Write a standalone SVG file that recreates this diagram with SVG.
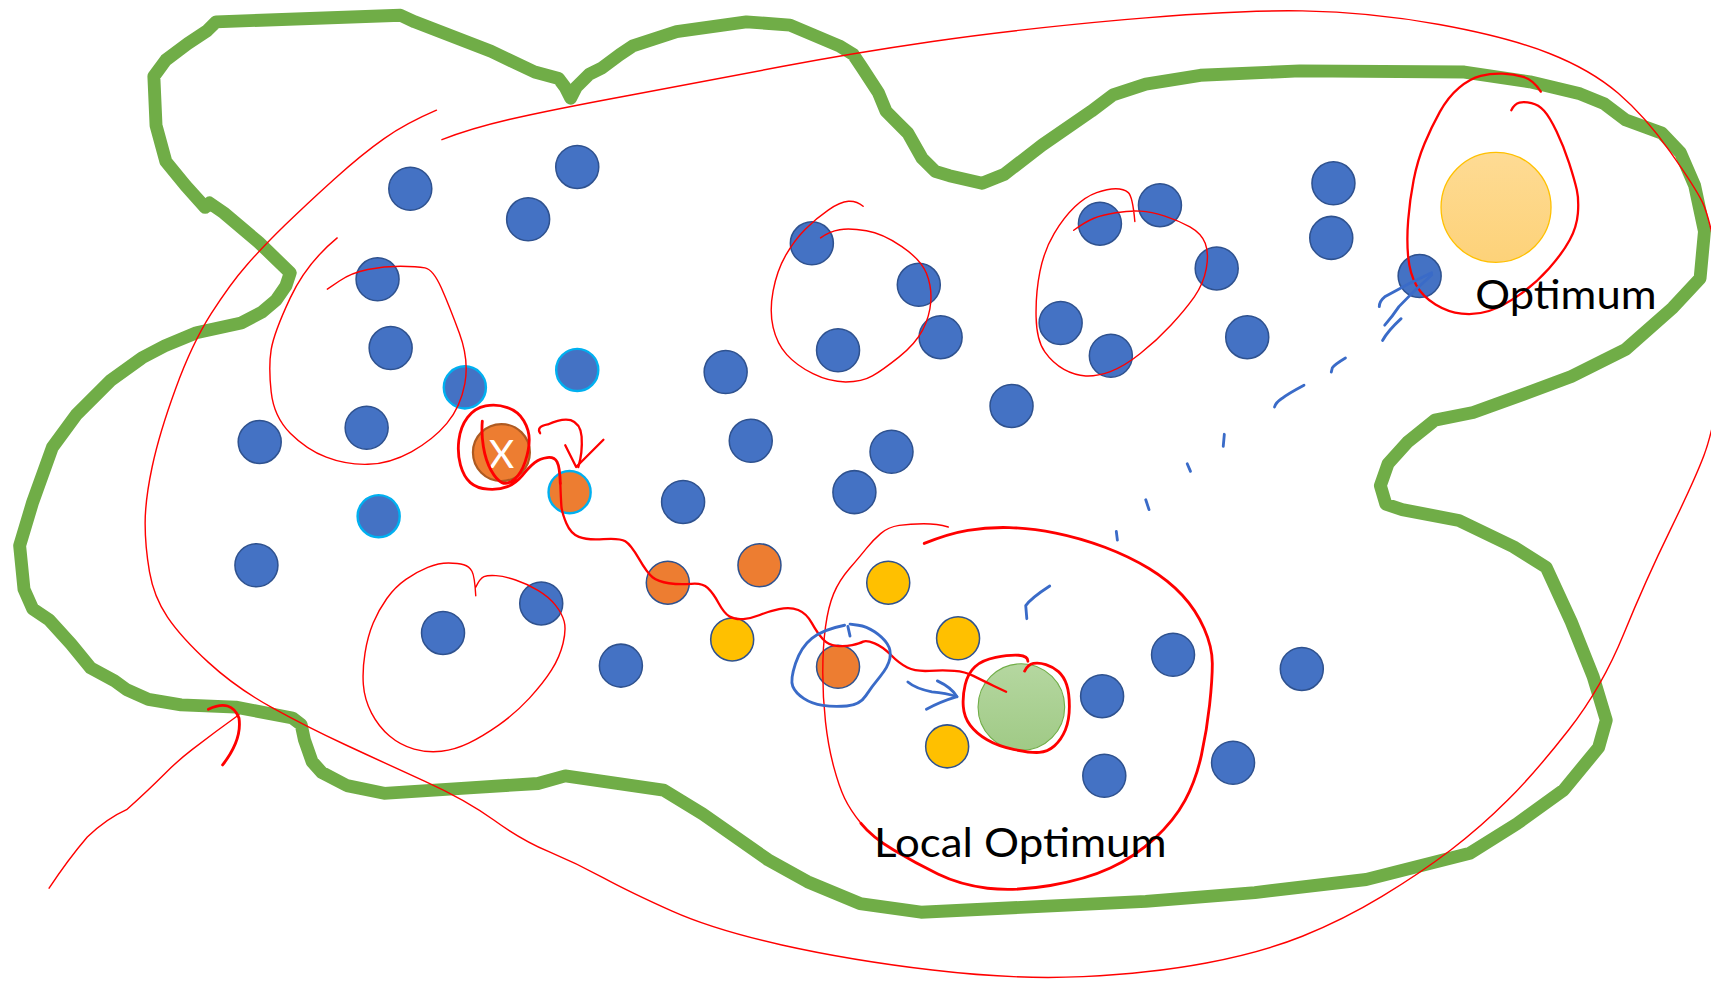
<svg xmlns="http://www.w3.org/2000/svg" width="1711" height="983" viewBox="0 0 1711 983">
  <defs>
    <style>
      .boundary { fill: none; stroke: #70AD47; stroke-width: 11.8; stroke-linejoin: round; stroke-linecap: round; }
      .pen-thin { fill: none; stroke: #FF0000; stroke-width: 1.3; stroke-linecap: round; stroke-linejoin: round; }
      .pen-mid { fill: none; stroke: #FF0000; stroke-width: 2.1; stroke-linecap: round; stroke-linejoin: round; }
      .pen-thick { fill: none; stroke: #FF0000; stroke-width: 2.6; stroke-linecap: round; stroke-linejoin: round; }
      .pen-blue { fill: none; stroke: #3A6BC8; stroke-width: 2.6; stroke-linecap: round; stroke-linejoin: round; }
      .dot { stroke-width: 1.4; }
      .blue { fill: #4472C4; stroke: #2F528F; }
      .cyan { fill: #4472C4; stroke: #00B0F0; stroke-width: 2.2; }
      .orange { fill: #ED7D31; stroke: #2F528F; }
      .orange-cyan { fill: #ED7D31; stroke: #00B0F0; stroke-width: 2.2; }
      .yellow { fill: #FFC000; stroke: #2F528F; }
      .label { font-family: Lato, "Open Sans", "Liberation Sans", sans-serif; font-size: 38px; fill: #000000; }
    </style>
    <linearGradient id="goldFill" x1="0" y1="0" x2="0" y2="1">
      <stop offset="0" stop-color="#FEDB94"/>
      <stop offset="1" stop-color="#FDD279"/>
    </linearGradient>
    <linearGradient id="greenFill" x1="0" y1="0" x2="0" y2="1">
      <stop offset="0" stop-color="#B5D7A0"/>
      <stop offset="1" stop-color="#A0CA86"/>
    </linearGradient>
  </defs>
  <rect width="1711" height="983" fill="#FFFFFF"/>

  <g transform="scale(1.0912)">
    <!-- search space boundary -->
    <g id="boundary">
      <path class="boundary" d="M198,20 L367,14 L380,20 L450,47 L490,66 L512,72 L518,80 L523,90 L528,80 L540,68 L552,62 L568,50 L580,42 L620,29 L684,20 L724,23 L769,42 L782,50 L790,62 L805,85 L812,102 L822,112 L832,122 L845,145 L857,157 L870,161 L900,168 L920,160 L955,133 L1000,102 L1020,87 L1050,77 L1100,69 L1191,65 L1342,66 L1402,75 L1448,86 L1470,95 L1490,110 L1523,122 L1540,140 L1553,170 L1562,212 L1558,255 L1533,282 L1490,320 L1440,345 L1400,360 L1350,378 L1315,385 L1290,405 L1272,425 L1265,445 L1270,462 L1285,467 L1337,477 L1387,501 L1417,520 L1440,570 L1460,620 L1472,660 L1465,685 L1433,724 L1390,755 L1347,782 L1252,806 L1150,818 L1050,826 L844,836 L788,828 L740,808 L704,788 L644,746 L608,724 L518,711 L493,718 L430,722 L352,727 L318,720 L295,708 L286,698 L279,678 L276,664 L268,658 L216,648 L166,646 L136,641 L116,632 L105,624 L83,612 L65,590 L45,568 L30,558 L22,540 L18,500 L30,460 L48,410 L70,380 L101,349 L130,328 L151,317 L180,305 L221,296 L240,286 L253,275 L262,262 L266,250 L237,222 L205,195 L192,186 L188,190 L170,170 L152,148 L143,115 L141,70 L152,55 L172,40 L190,28 Z"/>
    </g>

    <!-- sample points -->
    <g id="points">
      <g id="blue-points" class="dot blue">
        <circle cx="376" cy="173" r="19.7"/>
        <circle cx="529" cy="153" r="19.7"/>
        <circle cx="484" cy="201" r="19.7"/>
        <circle cx="346" cy="256" r="19.7"/>
        <circle cx="358" cy="319" r="19.7"/>
        <circle cx="336" cy="392" r="19.7"/>
        <circle cx="238" cy="405" r="19.7"/>
        <circle cx="235" cy="518" r="19.7"/>
        <circle cx="665" cy="341" r="19.7"/>
        <circle cx="688" cy="404" r="19.7"/>
        <circle cx="626" cy="460" r="19.7"/>
        <circle cx="817" cy="414" r="19.7"/>
        <circle cx="783" cy="451" r="19.7"/>
        <circle cx="744" cy="223" r="19.7"/>
        <circle cx="842" cy="261" r="19.7"/>
        <circle cx="768" cy="321" r="19.7"/>
        <circle cx="862" cy="309" r="19.7"/>
        <circle cx="927" cy="372" r="19.7"/>
        <circle cx="1008" cy="205" r="19.7"/>
        <circle cx="1063" cy="188" r="19.7"/>
        <circle cx="1115" cy="246" r="19.7"/>
        <circle cx="972" cy="296" r="19.7"/>
        <circle cx="1018" cy="326" r="19.7"/>
        <circle cx="1143" cy="309" r="19.7"/>
        <circle cx="1222" cy="168" r="19.7"/>
        <circle cx="1220" cy="218" r="19.7"/>
        <circle cx="1301" cy="253" r="19.7"/>
        <circle cx="406" cy="580" r="19.7"/>
        <circle cx="496" cy="553" r="19.7"/>
        <circle cx="569" cy="610" r="19.7"/>
        <circle cx="1010" cy="638" r="19.7"/>
        <circle cx="1075" cy="600" r="19.7"/>
        <circle cx="1193" cy="613" r="19.7"/>
        <circle cx="1012" cy="711" r="19.7"/>
        <circle cx="1130" cy="699" r="19.7"/>
      </g>
      <g id="neighbour-points" class="cyan">
        <circle cx="426" cy="355" r="19.3"/>
        <circle cx="529" cy="339" r="19.3"/>
        <circle cx="347" cy="473" r="19.3"/>
      </g>
      <g id="visited-points">
        <circle class="orange-cyan" cx="522" cy="451" r="19.3"/>
        <circle class="dot orange" cx="612" cy="534" r="19.7"/>
        <circle class="dot orange" cx="696" cy="518" r="19.7"/>
        <circle class="dot orange" cx="768" cy="611" r="19.7"/>
      </g>
      <g id="candidate-points" class="dot yellow">
        <circle cx="814" cy="534" r="19.7"/>
        <circle cx="671" cy="586" r="19.7"/>
        <circle cx="878" cy="585" r="19.7"/>
        <circle cx="868" cy="684" r="19.7"/>
      </g>
      <g id="start-point">
        <circle cx="459.5" cy="414.7" r="26.1" fill="#ED7D31" stroke="#AE5A21" stroke-width="2"/>
        <text x="459.5" y="429" text-anchor="middle" font-family="Lato, 'Open Sans', 'Liberation Sans', sans-serif" font-size="36" fill="#FFFFFF">X</text>
      </g>
      <g id="local-optimum">
        <circle cx="936" cy="648" r="39.7" fill="url(#greenFill)" stroke="#70AD47" stroke-width="1"/>
      </g>
      <g id="global-optimum">
        <circle cx="1371" cy="190" r="50.4" fill="url(#goldFill)" stroke="#FFC000" stroke-width="1.2"/>
      </g>
    </g>

    <!-- hand-drawn red pen strokes -->
    <g id="red-strokes">
      <path class="pen-thin" d="M400,101 Q372,113 352,127 Q332,141 306.5,164 Q281,187 261,206.5 Q241,226 226,243 Q211,260 193.5,287.5 Q176,315 161,356 Q146,397 139.5,427.5 Q133,458 133,479.5 Q133,501 137,524 Q141,547 153.5,565.5 Q166,584 191,607 Q216,630 248.5,648 Q281,666 316.5,682.5 Q352,699 389.5,716 Q427,733 452.5,751.5 Q478,770 503,780.5 Q528,791 553,804.5 Q578,818 616,835 Q654,852 716.5,866 Q779,880 854.5,889 Q930,898 992.5,895 Q1055,892 1105.5,882.5 Q1156,873 1193.5,858 Q1231,843 1266.5,821.5 Q1302,800 1329.5,779 Q1357,758 1382,733 Q1407,708 1437.5,669 Q1468,630 1488,581 Q1508,532 1530.5,486 Q1553,440 1561.5,417.5 Q1570,395 1577.5,347.5 Q1585,300 1576,249.5 Q1567,199 1560,185 Q1553,171 1530.5,139 Q1508,107 1483,85.5 Q1458,64 1420,49 Q1382,34 1319,22.5 Q1256,11 1193.5,10 Q1131,9 1030.5,18 Q930,27 854.5,38 Q779,49 716.5,61 Q654,73 578.5,87 Q503,101 466.5,109.5 Q430,118 405,128"/>

      <path class="pen-thin" d="M309,218 Q281,241 266,273 Q251,305 248.5,320.5 Q246,336 248.5,359 Q251,382 266,397 Q281,412 299,419 Q317,426 337,425.5 Q357,425 377,414 Q397,403 409.5,388 Q422,373 426,351.5 Q430,330 421,305.5 Q412,281 404.5,264 Q397,247 389.5,245.5 Q382,244 367,244 Q352,244 337,247 Q322,250 311,257.5 L300,265"/>

      <path class="pen-thin" d="M791,189 Q785,184 777.5,184.5 Q770,185 759,192.5 Q748,200 738,210 Q728,220 720,234 Q712,248 708.5,266.5 Q705,285 708.5,300 Q712,315 721,325 Q730,335 745,342.5 Q760,350 775,350 Q790,350 799.5,344.5 Q809,339 824,327 Q839,315 845.5,302.5 Q852,290 853,276.5 Q854,263 849,250.5 Q844,238 826.5,226 Q809,214 794,211.5 Q779,209 769.5,210.5 Q760,212 752,218"/>

      <path class="pen-thin" d="M1040,203 Q1038,180 1034,176.5 Q1030,173 1022.5,173 Q1015,173 1005,176.5 Q995,180 985,189.5 Q975,199 966,214 Q957,229 953,249 Q949,269 949.5,290.5 Q950,312 957.5,322.5 Q965,333 975,338.5 Q985,344 995,344.5 Q1005,345 1017.5,340.5 Q1030,336 1045,324 Q1060,312 1073,298 Q1086,284 1094.5,272 Q1103,260 1105.5,246 Q1108,232 1104.5,223 Q1101,214 1090.5,208 Q1080,202 1067.5,198 Q1055,194 1045,193.5 Q1035,193 1022.5,195 Q1010,197 1002.5,200 Q995,203 984,211"/>

      <path class="pen-thin" d="M436,546 Q435,528 432.5,523.5 Q430,519 425,517.5 Q420,516 411,516 Q402,516 392,520 Q382,524 372,531 Q362,538 354.5,548.5 Q347,559 342,571 Q337,583 334.5,598.5 Q332,614 333,627.5 Q334,641 340.5,653.5 Q347,666 357,674.5 Q367,683 379.5,686.5 Q392,690 404.5,688.5 Q417,687 429.5,681 Q442,675 457,664.5 Q472,654 485,640 Q498,626 505.5,614 Q513,602 516,589.5 Q519,577 517,569.5 Q515,562 509,554.5 Q503,547 493,541 Q483,535 472.5,531.5 Q462,528 454.5,527.5 Q447,527 443.5,528.5 Q440,530 436,538"/>

      <!-- loop around the optimum -->
      <path class="pen-mid" d="M1412,84 Q1405,73 1396,70.5 Q1387,68 1377,67.5 Q1367,67 1357,69.5 Q1347,72 1337,80.5 Q1327,89 1319.5,102.5 Q1312,116 1305.5,131.5 Q1299,147 1295.5,165 Q1292,183 1290.5,201.5 Q1289,220 1290.5,235.5 Q1292,251 1298,261.5 Q1304,272 1315.5,279 Q1327,286 1339.5,287.5 Q1352,289 1364.5,285 Q1377,281 1392,270.5 Q1407,260 1419.5,246 Q1432,232 1438.5,220 Q1445,208 1446,195.5 Q1447,183 1445,174 Q1443,165 1438,149.5 Q1433,134 1426.5,120.5 Q1420,107 1415,101.5 Q1410,96 1403.5,94.5 Q1397,93 1392.5,94 Q1388,95 1385,101"/>

      <!-- basin of the local optimum -->
      <path class="pen-thick" d="M847,498 Q869,489 887,486 Q905,483 925,483.5 Q945,484 967.5,488.5 Q990,493 1012.5,501.5 Q1035,510 1053,521 Q1071,532 1083.5,545.5 Q1096,559 1103.5,576 Q1111,593 1111,608 Q1111,623 1108.5,646 Q1106,669 1101,692 Q1096,715 1086,733.5 Q1076,752 1058,768.5 Q1040,785 1017.5,795.5 Q995,806 962.5,811.5 Q930,817 905,814 Q880,811 859.5,801 Q839,791 819,779 Q799,767 789,754.5"/>
      <path class="pen-thin" d="M789,754.5 Q779,742 774,731.5 Q769,721 764,702.5 Q759,684 756.5,661.5 Q754,639 754,616 Q754,593 756.5,574.5 Q759,556 764,544 Q769,532 778.5,521 Q788,510 794,502.5 Q800,495 807,489 Q814,483 824,481.5 Q834,480 846.5,480 Q859,480 869,483"/>

      <!-- ring around the local optimum -->
      <path class="pen-thick" d="M942,606 Q942,601 933.5,600.5 Q925,600 912.5,602.5 Q900,605 893.5,611 Q887,617 884.5,627.5 Q882,638 882.8,647.5 Q883.5,657 889,664.5 Q894.6,672 904.6,678 Q914.7,684 929.8,687 Q944.8,690 952.4,689.5 Q960,689 966.3,683.5 Q972.5,678 976.3,669 Q980,660 980,647.5 Q980,635 977.5,627.5 Q975,620 970,615.5 Q965,611 958.5,609 Q952,607 947,608 Q942,609 939,615"/>

      <!-- hill-climbing trail from X -->
      <path class="pen-thick" d="M442,386 Q441,397 443,409.5 Q445,422 450,431 Q455,440 460,442.3 Q465,444.5 471.3,439.3 Q477.6,434 481.3,423 Q485,412 485,403 Q485,394 480,385.5 Q475,377 465,373.5 Q455,370 445,372 Q435,374 428.5,382.5 Q422,391 420.5,403.3 Q419,415.5 422,426.3 Q425,437 431,442.3 Q437,447.6 447.3,448.3 Q457.5,449 465,446 Q472.5,443 478.8,435.5 Q485,428 490,424 Q495,420 501.5,419.3 Q508,418.5 510.5,423.3 Q513,428 513.5,443"/>
      <path class="pen-mid" d="M513.5,443 Q514,458 514.5,464 Q515,470 519,479.5 Q523,489 530.5,492 Q538,495 553,494 Q568,493 573,496 Q578,499 585.5,512 Q593,525 598,529 Q603,533 613,534.5 Q623,536 633.3,535 Q643.5,534 648.5,538.8 Q653.5,543.5 658.6,552.8 Q663.6,562 668.6,565 Q673.6,568 681.2,567.3 Q688.7,566.6 696.3,563.6 Q703.8,560.5 713.9,558.3 Q724,556 731.5,559 Q739,562 744,571 Q749,580 754,585.5 Q759,591 766.5,591.8 Q774,592.6 781,591.1 Q788,589.6 791,588 Q794,586.5 801.5,589.6 Q809,592.6 816.5,600.3 Q824,608 831.5,611.8 Q839,615.5 851.8,614.8 Q864.5,614 874.5,614.8 Q884.5,615.5 892,619.4 Q899.6,623.2 910.8,628.6 L922,634"/>

      <!-- hop to the neighbour -->
      <path class="pen-mid" d="M495,397 Q491,391 502,389 Q515,383 523,385 Q532,388 533,400 Q534,415 530,428"/>
      <path class="pen-mid" d="M518,408 L528,428 L553,403"/>

      <!-- entry arrow -->
      <path class="pen-thin" d="M45,814 Q62,788 80,767 Q98,750 116,742 Q135,725 151,709 Q163,697 176,687 Q198,670 219,655"/>
      <path class="pen-thick" d="M191,650 Q212,640 219,658 Q222,678 204,701"/>
    </g>

    <!-- blue pen strokes -->
    <g id="blue-strokes">
      <path class="pen-blue" d="M774,573 Q754,577 744,585 Q734,593 729,608 Q724,623 726.5,629 Q729,635 736.5,640 Q744,645 754,646.5 Q764,648 776,647 Q788,646 793.5,637.5 Q799,629 806.5,620 Q814,611 815.5,603.5 Q817,596 813,590 Q809,584 801.5,579 Q794,574 786.5,573 L779,572"/>
      <path class="pen-blue" d="M777,574 L779,583"/>
      <path class="pen-blue" d="M832,625 Q839,631 854,634 Q867,635 877,638.5"/>
      <path class="pen-blue" d="M859,624 Q872,630 877,638.5 Q862,643 849,650"/>
      <path class="pen-blue" d="M962,537 Q945,548 940,555 L941,567"/>
      <path class="pen-blue" d="M1023,487 L1024,495"/>
      <path class="pen-blue" d="M1050,458 L1053,467"/>
      <path class="pen-blue" d="M1088,425 L1091,432"/>
      <path class="pen-blue" d="M1122,398 L1121,409"/>
      <path class="pen-blue" d="M1195,353 Q1180,361 1175,365 Q1169,369 1168,373"/>
      <path class="pen-blue" d="M1233,328 Q1223,334 1221,337 L1220,341"/>
      <path class="pen-blue" d="M1312,250 Q1290,260 1269,272 Q1264,276 1264,281"/>
      <path class="pen-blue" d="M1312,252 Q1296,266 1282,281 Q1276,290 1269,298"/>
      <path class="pen-blue" d="M1284,292 Q1272,303 1267,312"/>
    </g>

    <!-- labels -->
    <g id="labels">
      <text class="label" x="1352" y="283" textLength="166" lengthAdjust="spacingAndGlyphs">Optimum</text>
      <text class="label" x="801" y="785" textLength="268" lengthAdjust="spacingAndGlyphs">Local Optimum</text>
    </g>
  </g>
</svg>
